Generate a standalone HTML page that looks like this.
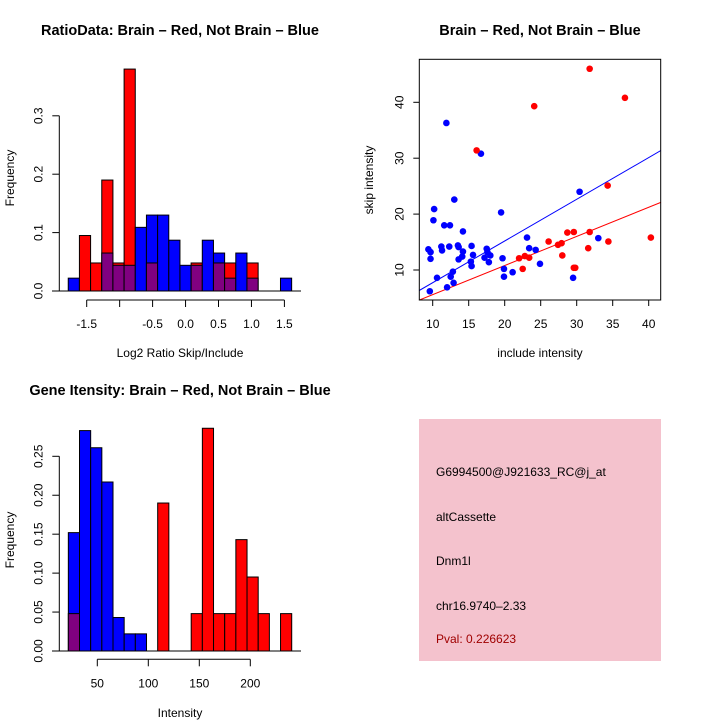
<!DOCTYPE html>
<html><head><meta charset="utf-8"><style>
html,body{margin:0;padding:0;background:#fff}
svg{display:block;font-family:"Liberation Sans",sans-serif}
</style></head><body>
<svg id="c" width="720" height="720" viewBox="0 0 720 720">
<rect width="720" height="720" fill="#fff"/>
<text x="180" y="35" text-anchor="middle" font-size="14.5" font-weight="bold">RatioData: Brain – Red, Not Brain – Blue</text>
<text x="540" y="35" text-anchor="middle" font-size="14.5" font-weight="bold">Brain – Red, Not Brain – Blue</text>
<text x="180" y="395" text-anchor="middle" font-size="14.5" font-weight="bold">Gene Itensity: Brain – Red, Not Brain – Blue</text>
<text x="180" y="357" text-anchor="middle" font-size="12">Log2 Ratio Skip/Include</text>
<text transform="translate(14,178) rotate(-90)" text-anchor="middle" font-size="12">Frequency</text>
<text x="540" y="357" text-anchor="middle" font-size="12">include intensity</text>
<text transform="translate(373,180) rotate(-90)" text-anchor="middle" font-size="12">skip intensity</text>
<text x="180" y="717" text-anchor="middle" font-size="12">Intensity</text>
<text transform="translate(14,540) rotate(-90)" text-anchor="middle" font-size="12">Frequency</text>
<g>
<rect x="419" y="419" width="242" height="242" fill="#f4c2cd"/>
<text x="436" y="476" font-size="12">G6994500@J921633_RC@j_at</text>
<text x="436" y="521" font-size="12">altCassette</text>
<text x="436" y="565" font-size="12">Dnm1l</text>
<text x="436" y="610" font-size="12">chr16.9740–2.33</text>
<text x="436" y="643" font-size="12" fill="#a00000">Pval: 0.226623</text>
</g>
</svg>
<script>
// ---- Ratio histogram data ----
const ratioBinStart = -1.78;
const ratioBinWidth = 0.1695;
const ratioRed  = [0,0.095,0.048,0.19,0.048,0.38,0,0.048,0,0,0,0.048,0,0.048,0.048,0,0.048,0,0,0];
const ratioBlue = [0.022,0,0,0.065,0.044,0.044,0.109,0.13,0.13,0.087,0.044,0.044,0.087,0.065,0.022,0.065,0.022,0,0,0.022];
const ratioXTicks = [-1.5,-1.0,-0.5,0,0.5,1.0,1.5];
const ratioXLabels = ["-1.5","","-0.5","0.0","0.5","1.0","1.5"];
const ratioYTicks = [0,0.1,0.2,0.3];
const ratioYLabels = ["0.0","0.1","0.2","0.3"];
// ---- Intensity histogram data ----
const intBinStart = 21.6;
const intBinWidth = 10.95;
const intRed  = [0.048,0,0,0,0,0,0,0,0.19,0,0,0.048,0.286,0.048,0.048,0.143,0.095,0.048,0,0.048];
const intBlue = [0.152,0.283,0.261,0.217,0.043,0.022,0.022,0,0,0,0,0,0,0,0,0,0,0,0,0];
const intXTicks = [50,100,150,200];
const intYTicks = [0,0.05,0.1,0.15,0.2,0.25];
const intYLabels = ["0.00","0.05","0.10","0.15","0.20","0.25"];
// ---- Scatter data ----
const redX = [16.1,24.1,31.8,36.7,34.3,40.3,34.4,31.8,31.6,29.6,28.7,27.9,27.4,28.0,29.6,29.8,26.1,23.4,22.8,22.0,22.5];
const redY = [31.4,39.3,46.0,40.8,25.1,15.8,15.1,16.8,13.9,16.8,16.7,14.8,14.5,12.6,10.4,10.4,15.1,12.2,12.5,12.1,10.2];
const blueX = [11.9,16.7,13.0,10.2,10.1,11.6,12.4,14.2,19.5,30.4,23.1,23.4,24.3,24.9,33.0,29.5,9.4,9.7,9.7,11.2,11.3,12.3,13.5,13.6,14.2,14.1,13.6,15.4,15.6,15.3,15.4,17.5,17.6,17.2,18.0,17.8,19.7,19.9,19.9,21.1,12.8,12.5,10.6,12.9,12.0,9.6];
const blueY = [36.3,30.8,22.6,20.9,18.9,18.0,18.0,16.9,20.3,24.0,15.8,13.9,13.6,11.1,15.7,8.6,13.7,13.2,12.0,14.2,13.5,14.2,14.4,14.1,13.3,12.4,11.9,14.3,12.7,11.5,10.7,13.8,13.2,12.2,12.6,11.4,12.1,10.2,8.8,9.6,9.7,8.8,8.6,7.7,6.9,6.2];
const blueFit = [0.27,0.746];
const redFit = [0.38,0.521];
const scXTicks = [10,15,20,25,30,35,40];
const scYTicks = [10,20,30,40];

const svg = document.getElementById('c');
const NS = 'http://www.w3.org/2000/svg';
function mk(tag, attrs, parent){
  const e = document.createElementNS(NS, tag);
  for (const k in attrs) e.setAttribute(k, attrs[k]);
  (parent||svg).appendChild(e);
  return e;
}

function histogram(opt){
  const g = mk('g', {});
  
  
  const sx = v => opt.x0 + (v - opt.d0) * opt.kx;
  const sy = v => opt.yBase - v * opt.ky;
  for (let i = 0; i < opt.red.length; i++) {
    const a = opt.binStart + i * opt.binWidth, b = a + opt.binWidth;
    const r = opt.red[i], bl = opt.blue[i];
    const mx = Math.max(r, bl), mn = Math.min(r, bl);
    if (mx > 0) {
      const rc = mk('rect', {x: sx(a), y: sy(mx), width: sx(b)-sx(a), height: sy(0)-sy(mx), fill: r >= bl ? '#ff0000' : '#0000ff', stroke: '#000', 'stroke-width': 1}, g);
      
      
    }
    if (mn > 0) {
      const pc = mk('rect', {x: sx(a), y: sy(mn), width: sx(b)-sx(a), height: sy(0)-sy(mn), fill: '#800080', stroke: '#000', 'stroke-width': 1}, g);
      
      
    }
  }
  mk('line', {x1: opt.baseX1, x2: opt.baseX2, y1: sy(0), y2: sy(0), stroke: '#000'}, g);
  const xa = mk('g', {}, g);
  
  
  const ay = opt.xAxisY;
  mk('line', {x1: sx(opt.xTicks[0]), x2: sx(opt.xTicks[opt.xTicks.length-1]), y1: ay, y2: ay, stroke: '#000'}, xa);
  opt.xTicks.forEach((t, i) => {
    mk('line', {x1: sx(t), x2: sx(t), y1: ay, y2: ay + 7, stroke: '#000'}, xa);
    const tx = mk('text', {x: sx(t), y: ay + 28, 'text-anchor': 'middle', 'font-size': 12}, xa);
    tx.textContent = opt.xLabels[i];
  });
  const ya = mk('g', {}, g);
  
  
  const ax = opt.yAxisX;
  mk('line', {x1: ax, x2: ax, y1: sy(opt.yTicks[0]), y2: sy(opt.yTicks[opt.yTicks.length-1]), stroke: '#000'}, ya);
  opt.yTicks.forEach((t, i) => {
    mk('line', {x1: ax - 7, x2: ax, y1: sy(t), y2: sy(t), stroke: '#000'}, ya);
    const tx = mk('text', {transform: `translate(${ax-17},${sy(t)}) rotate(-90)`, 'text-anchor': 'middle', 'font-size': 12}, ya);
    tx.textContent = opt.yLabels[i];
  });
}

histogram({name: 'ratio-histogram', red: ratioRed, blue: ratioBlue, binStart: ratioBinStart, binWidth: ratioBinWidth,
  x0: 86.7, d0: -1.5, kx: 65.9, yBase: 291, ky: 584, baseX1: 52, baseX2: 301, xAxisY: 300, yAxisX: 59.3,
  xTicks: ratioXTicks, xLabels: ratioXLabels, yTicks: ratioYTicks, yLabels: ratioYLabels});
histogram({name: 'intensity-histogram', red: intRed, blue: intBlue, binStart: intBinStart, binWidth: intBinWidth,
  x0: 97.3, d0: 50, kx: 1.02, yBase: 651, ky: 778.8, baseX1: 52, baseX2: 301, xAxisY: 659.3, yAxisX: 59.3,
  xTicks: intXTicks, xLabels: intXTicks.map(String), yTicks: intYTicks, yLabels: intYLabels});

(function(){
  const g = mk('g', {});
  
  
  const L = 419.3, R = 660.7, T = 59.3, B = 300;
  const sx = v => 432.7 + (v - 10) * 7.2;
  const sy = v => 270 - (v - 10) * 5.59;
  const clip = mk('clipPath', {id: 'scclip'}, g);
  mk('rect', {x: L, y: T, width: R-L, height: B-T}, clip);
  const lines = mk('g', {'clip-path': 'url(#scclip)'}, g);
  [[blueFit,'#0000ff','blue-fit-line'],[redFit,'#ff0000','red-fit-line']].forEach(([f,c,n]) => {
    const xa = 8, xb = 42;
    const ln = mk('line', {x1: sx(xa), y1: sy(f[0]+f[1]*xa), x2: sx(xb), y2: sy(f[0]+f[1]*xb), stroke: c, 'stroke-width': 1}, lines);
    
    
  });
  blueX.forEach((x, i) => {
    const p = mk('circle', {cx: sx(x), cy: sy(blueY[i]), r: 3.3, fill: '#0000ff'}, g);
    
    
  });
  redX.forEach((x, i) => {
    const p = mk('circle', {cx: sx(x), cy: sy(redY[i]), r: 3.3, fill: '#ff0000'}, g);
    
    
  });
  const box = mk('rect', {x: L, y: T, width: R-L, height: B-T, fill: 'none', stroke: '#000'}, g);
  
  
  const xa = mk('g', {}, g);
  
  
  scXTicks.forEach(t => {
    mk('line', {x1: sx(t), x2: sx(t), y1: B, y2: B + 6, stroke: '#000'}, xa);
    const tx = mk('text', {x: sx(t), y: B + 28, 'text-anchor': 'middle', 'font-size': 12}, xa);
    tx.textContent = String(t);
  });
  const ya = mk('g', {}, g);
  
  
  scYTicks.forEach(t => {
    mk('line', {x1: L - 6, x2: L, y1: sy(t), y2: sy(t), stroke: '#000'}, ya);
    const tx = mk('text', {transform: `translate(${L-16},${sy(t)}) rotate(-90)`, 'text-anchor': 'middle', 'font-size': 12}, ya);
    tx.textContent = String(t);
  });
})();
</script>
</body></html>
